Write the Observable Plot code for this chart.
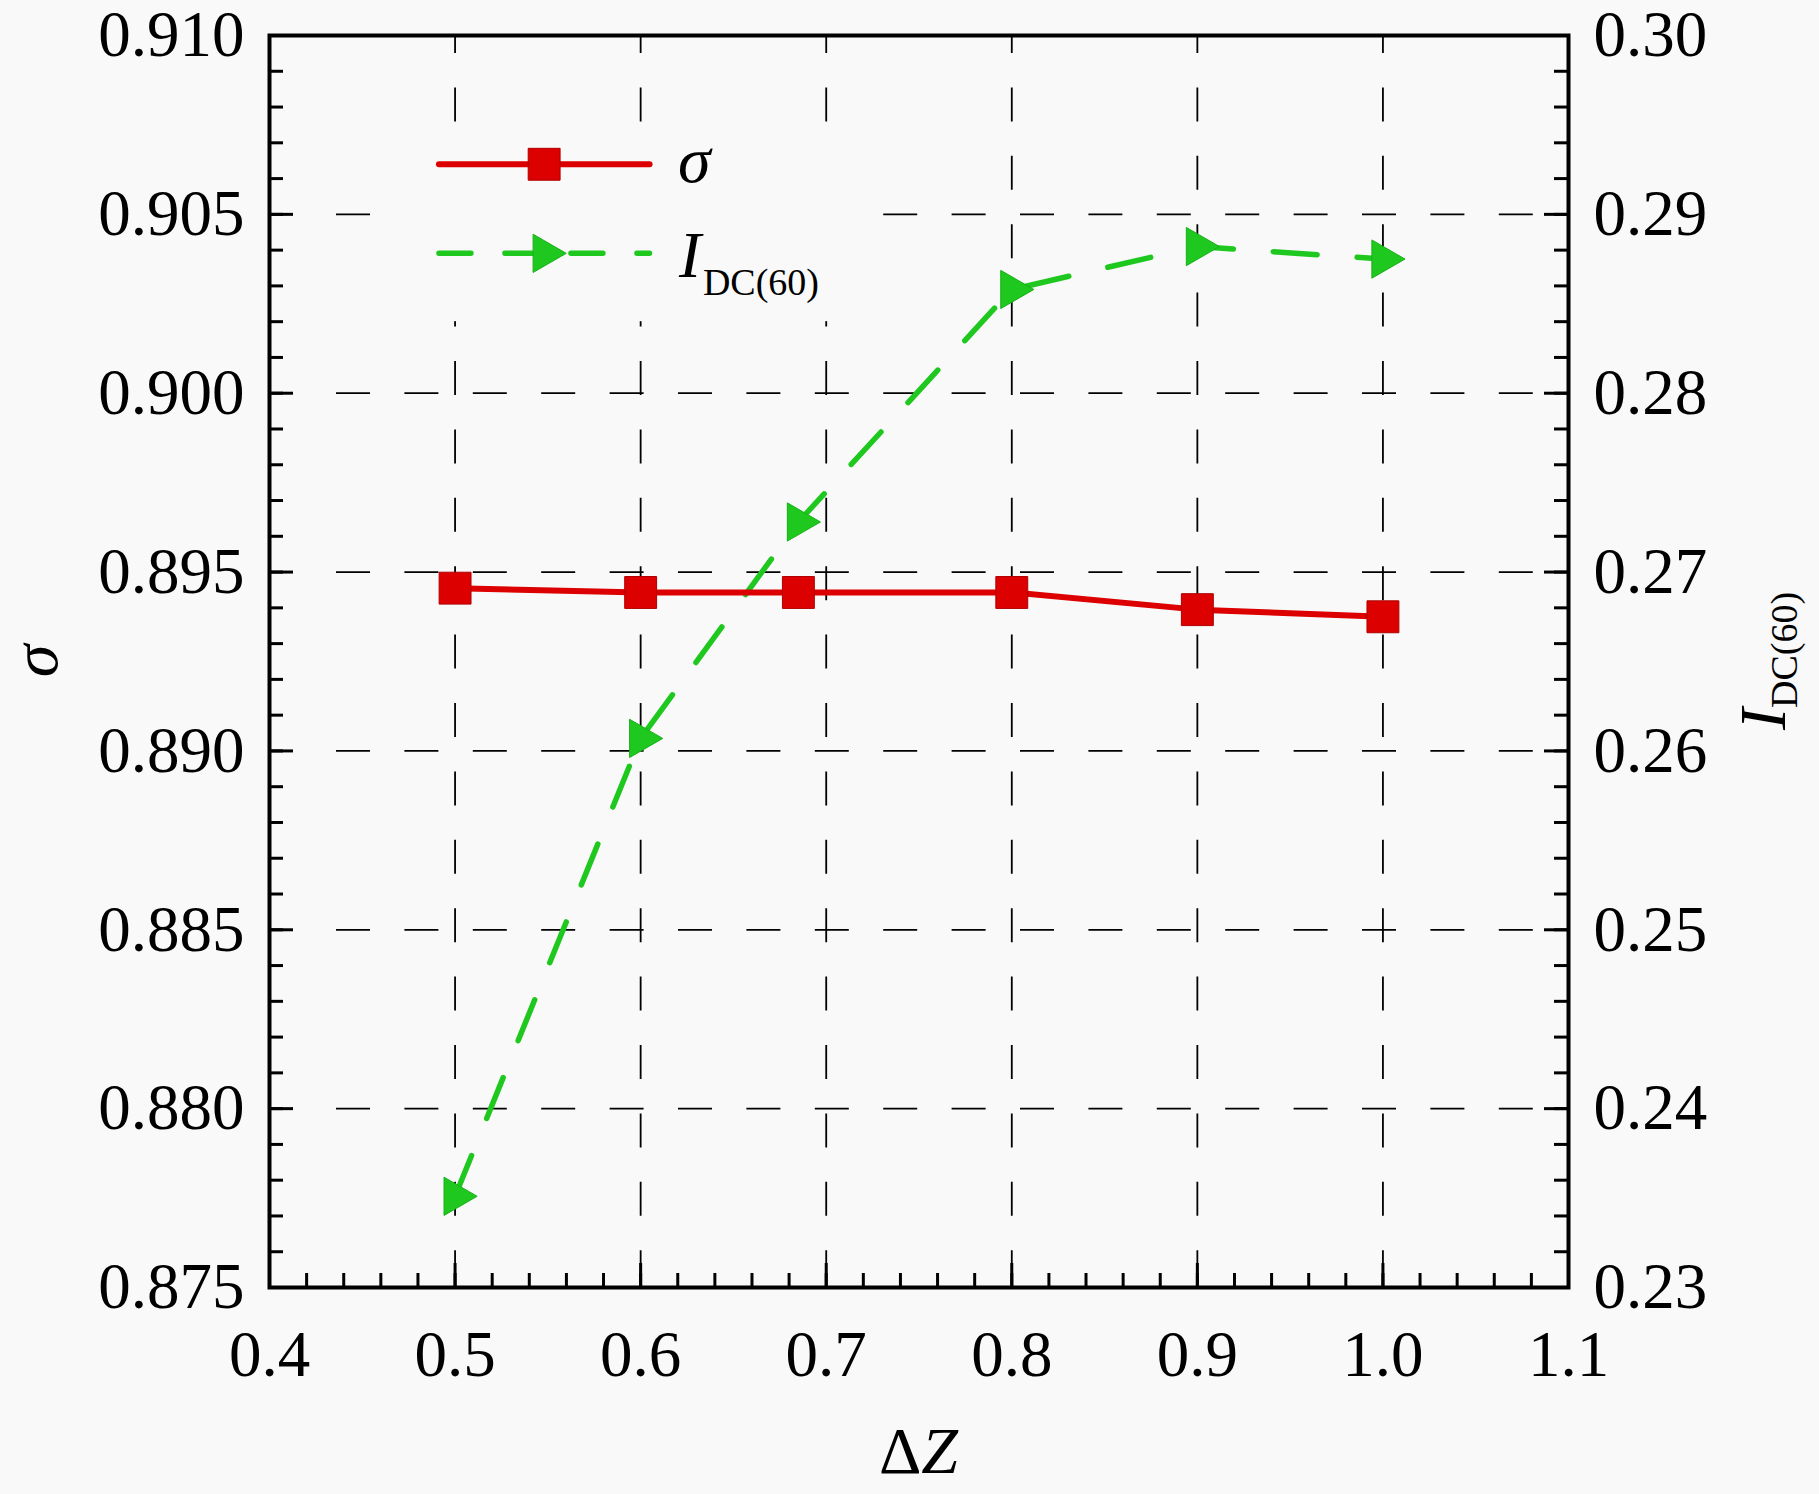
<!DOCTYPE html>
<html><head><meta charset="utf-8">
<script src="https://cdn.jsdelivr.net/npm/d3@7"></script>
<script src="https://cdn.jsdelivr.net/npm/@observablehq/plot@0.6"></script>
<style>
html,body{margin:0;padding:0;background:#f9f9f9;}
#chart{width:1819px;height:1494px;}
</style></head><body><div id="chart"></div>
<script>
// ---- data ----
const deltaZ = [0.5, 0.6, 0.685, 0.8, 0.9, 1.0];
const sigma  = [0.89455, 0.89443, 0.89443, 0.89443, 0.89395, 0.89375];
const idc60  = [0.2351, 0.2607, 0.2728, 0.2858, 0.2882, 0.2875];

const xTicks      = [0.4, 0.5, 0.6, 0.7, 0.8, 0.9, 1.0, 1.1];
const xGridVals   = [0.5, 0.6, 0.7, 0.8, 0.9, 1.0];
const yLeftTicks  = [0.875, 0.880, 0.885, 0.890, 0.895, 0.900, 0.905, 0.910];
const yGridVals   = [0.880, 0.885, 0.890, 0.895, 0.900, 0.905];
const yRightTicks = [0.23, 0.24, 0.25, 0.26, 0.27, 0.28, 0.29, 0.30];
const xMinorTicks = d3.range(36).map(i => 0.4 + i * 0.02);
const yMinorTicks = d3.range(36).map(i => 0.875 + i * 0.001);

// legend placement (data units of the left axis)
const legendBox = [{x1: 0.46, x2: 0.7276, y1: 0.9020, y2: 0.9074}];
const legendLineX = [0.4913, 0.6048];
const legendMarkX = 0.548;
const legendTextX = 0.6182;
const legendRowSigma = 0.9064;
const legendRowI = 0.90391;

// ---- layout ----
const W = 1819, H = 1494, mL = 269, mR = 251, mT = 35, mB = 207;
const plotW = W - mL - mR, plotH = H - mT - mB;
const font = "'Liberation Serif', 'Times New Roman', serif";
const red = "#dc0000", green = "#1fc81f";

const toLeft = d3.scaleLinear([0.23, 0.30], [0.875, 0.910]);
const rows = deltaZ.map((x, i) => ({x, s: sigma[i], d: toLeft(idc60[i])}));
const rightTickPos = yRightTicks.map(v => toLeft(v));

const triRight = {
  draw(ctx, size) {
    const y = Math.sqrt(size / (3 * Math.sqrt(3)));
    ctx.moveTo(2 * y, 0);
    ctx.lineTo(-y, -Math.sqrt(3) * y);
    ctx.lineTo(-y, Math.sqrt(3) * y);
    ctx.closePath();
  }
};

const legendSigmaLine = legendLineX.map(x => ({x, y: legendRowSigma}));
const legendILine = legendLineX.map(x => ({x, y: legendRowI}));

const chart = Plot.plot({
  width: W, height: H,
  marginLeft: mL, marginRight: mR, marginTop: mT, marginBottom: mB,
  style: {background: "#f9f9f9", fontFamily: font, fontSize: "65px", color: "black", overflow: "visible"},
  x: {domain: [0.4, 1.1], axis: null},
  y: {domain: [0.875, 0.910], axis: null},
  marks: [
    // dashed grid
    Plot.ruleX(xGridVals, {x: d => d, stroke: "black", strokeWidth: 1.8, strokeDasharray: "34,34.4", strokeDashoffset: 16}),
    Plot.ruleY(yGridVals, {y: d => d, stroke: "black", strokeWidth: 1.8, insetLeft: 33, strokeDasharray: "34,34.4", strokeDashoffset: 34.4}),
    // legend box + samples
    Plot.rect(legendBox, {x1: "x1", x2: "x2", y1: "y1", y2: "y2", fill: "#f9f9f9"}),
    Plot.line(legendSigmaLine, {x: "x", y: "y", stroke: red, strokeWidth: 6}),
    Plot.dot([{x: legendMarkX, y: legendRowSigma}], {x: "x", y: "y", symbol: "square", r: 18, fill: red, stroke: "#b00000", strokeWidth: 1}),
    Plot.line(legendILine, {x: "x", y: "y", stroke: green, strokeWidth: 5.5, strokeDasharray: "32,34"}),
    Plot.dot([{x: legendMarkX, y: legendRowI}], {x: "x", y: "y", symbol: triRight, r: 14.2, fill: green, stroke: "#18b018", strokeWidth: 1}),
    // data lines
    Plot.line(rows, {x: "x", y: "d", stroke: green, strokeWidth: 5.5, strokeDasharray: "44,40"}),
    Plot.line(rows, {x: "x", y: "s", stroke: red, strokeWidth: 6}),
    Plot.dot(rows, {x: "x", y: "d", symbol: triRight, r: 14.2, fill: green, stroke: "#18b018", strokeWidth: 1}),
    Plot.dot(rows, {x: "x", y: "s", symbol: "square", r: 18, fill: red, stroke: "#b00000", strokeWidth: 1}),
    // frame
    Plot.frame({stroke: "black", strokeWidth: 4}),
    // inward ticks
    Plot.ruleX(xMinorTicks, {x: d => d, insetTop: plotH - 14, stroke: "black", strokeWidth: 3}),
    Plot.ruleX(xTicks, {x: d => d, insetTop: plotH - 24, stroke: "black", strokeWidth: 3}),
    Plot.ruleY(yMinorTicks, {y: d => d, insetRight: plotW - 14, stroke: "black", strokeWidth: 3}),
    Plot.ruleY(yLeftTicks, {y: d => d, insetRight: plotW - 24, stroke: "black", strokeWidth: 3}),
    Plot.ruleY(yMinorTicks, {y: d => d, insetLeft: plotW - 14, stroke: "black", strokeWidth: 3}),
    Plot.ruleY(rightTickPos, {y: d => d, insetLeft: plotW - 24, stroke: "black", strokeWidth: 3}),
    // tick labels
    Plot.axisX(xTicks, {tickSize: 0, tickPadding: 42, tickFormat: d3.format(".1f"), label: null, fontSize: 65, fill: "black"}),
    Plot.axisY(yLeftTicks, {anchor: "left", tickSize: 0, tickPadding: 25, tickFormat: d3.format(".3f"), label: null, fontSize: 65, fill: "black"}),
    Plot.axisY(rightTickPos, {anchor: "right", tickSize: 0, tickPadding: 25, tickFormat: v => d3.format(".2f")(toLeft.invert(v)), label: null, fontSize: 65, fill: "black"})
  ]
});

document.getElementById("chart").appendChild(chart);

// ---- axis titles and legend text ----
const svg = d3.select(chart);
const sx = chart.scale("x"), sy = chart.scale("y");
const g = svg.append("g").attr("font-family", font).attr("fill", "black");

// x title ΔZ
const xt = g.append("text").attr("x", (mL + W - mR) / 2).attr("y", 1473).attr("text-anchor", "middle").attr("font-size", 66);
xt.append("tspan").text("Δ");
xt.append("tspan").attr("font-style", "italic").text("Z");

// left title σ
g.append("text").attr("transform", `translate(57,${mT + plotH / 2}) rotate(-90)`)
  .attr("text-anchor", "middle").attr("font-size", 66).attr("font-style", "italic").text("σ");

// right title I_DC(60)
const rt = g.append("text").attr("transform", `translate(1785,${mT + plotH / 2}) rotate(-90)`)
  .attr("text-anchor", "middle").attr("font-size", 66);
rt.append("tspan").attr("font-style", "italic").text("I");
rt.append("tspan").attr("font-size", 38).attr("dy", 12).text("DC(60)");

// legend labels
const legTextX = sx.apply(legendTextX);
g.append("text").attr("x", legTextX + 4).attr("y", sy.apply(legendRowSigma) + 18)
  .attr("text-anchor", "start").attr("font-size", 66).attr("font-style", "italic").text("σ");
const lt = g.append("text").attr("x", legTextX + 5).attr("y", sy.apply(legendRowI) + 24)
  .attr("text-anchor", "start").attr("font-size", 66);
lt.append("tspan").attr("font-style", "italic").text("I");
lt.append("tspan").attr("font-size", 38).attr("dy", 18).attr("dx", 2).text("DC(60)");
</script>
</body></html>
